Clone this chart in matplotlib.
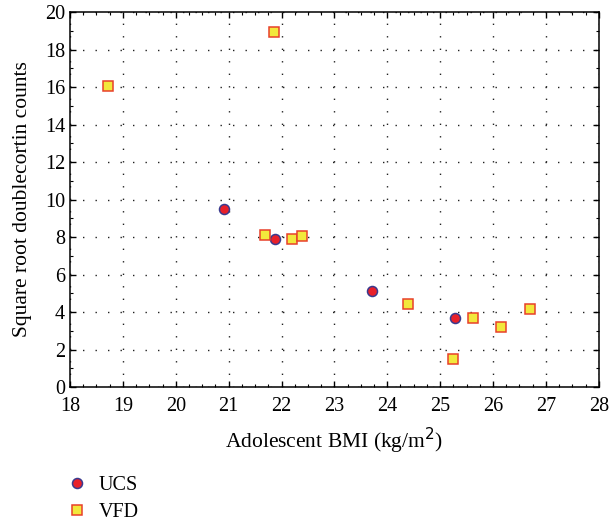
import matplotlib
matplotlib.use("Agg")
import matplotlib.pyplot as plt
from matplotlib.ticker import MultipleLocator

# UCS group (circles)
ucs_bmi = [20.92, 21.88, 23.71, 25.29]
ucs_dcx = [9.5, 7.9, 5.1, 3.68]

# VFD group (squares)
vfd_bmi = [18.72, 21.85, 21.68, 22.19, 22.38, 24.39, 25.25, 25.63, 26.16, 26.7]
vfd_dcx = [16.05, 18.93, 8.1, 7.9, 8.05, 4.41, 1.48, 3.68, 3.2, 4.14]

plt.rcParams['font.family'] = ['Liberation Serif', 'DejaVu Serif']

fig = plt.figure(figsize=(6.11, 5.22), dpi=100)
ax = fig.add_axes([0.1146, 0.2586, 0.8654, 0.7184])

ax.plot(ucs_bmi, ucs_dcx, linestyle='none', marker='o', markersize=7.2,
        markerfacecolor='#e8202a', markeredgecolor='#3a3a8e', markeredgewidth=1.1,
        label='UCS', zorder=3)
ax.plot(vfd_bmi, vfd_dcx, linestyle='none', marker='s', markersize=7.6,
        markerfacecolor='#f2e83c', markeredgecolor='#e8402a', markeredgewidth=1.1,
        label='VFD', zorder=3)

ax.set_xlim(18, 28)
ax.set_ylim(0, 20)
ax.xaxis.set_major_locator(MultipleLocator(1))
ax.xaxis.set_minor_locator(MultipleLocator(0.25))
ax.yaxis.set_major_locator(MultipleLocator(2))
ax.yaxis.set_minor_locator(MultipleLocator(1))
ax.tick_params(which='both', direction='in', top=True, right=True, labelsize=14.5)
ax.tick_params(which='major', length=4, width=1)
ax.tick_params(which='minor', length=2.5, width=0.8)
ax.tick_params(axis='x', which='major', pad=7)
ax.grid(True, which='major', color='#222222', linestyle=(0, (1, 8)), linewidth=1)

for sp in ax.spines.values():
    sp.set_linewidth(1.1)

ax.set_xlabel('Adolescent BMI (kg/m$^2$)', fontsize=15.5, labelpad=7)
ax.set_ylabel('Square root doublecortin counts', fontsize=15.5, labelpad=9)

fig.legend(loc='upper left', bbox_to_anchor=(0.095, 0.104), frameon=False,
           fontsize=14.5, handletextpad=0.5, labelspacing=0.42, handlelength=1.1,
           borderaxespad=0)

fig.savefig('out.png', dpi=100)
